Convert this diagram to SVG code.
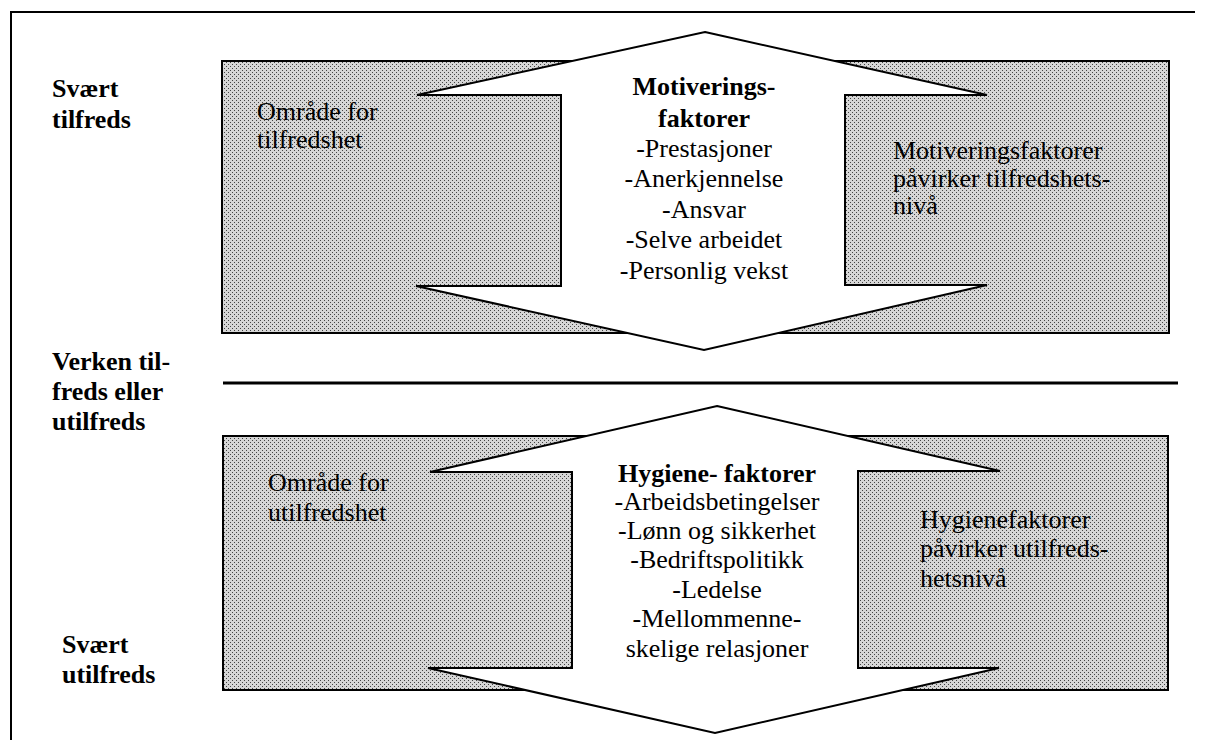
<svg xmlns="http://www.w3.org/2000/svg" width="1207" height="740" viewBox="0 0 1207 740">
<defs>
<pattern id="dots" patternUnits="userSpaceOnUse" width="4" height="4">
<rect width="4" height="4" fill="#d6d6d6"/>
<rect x="0" y="0" width="1" height="1" fill="#444"/>
<rect x="2" y="2" width="1" height="1" fill="#444"/>
</pattern>
</defs>
<style>
.zone{fill:url(#dots);stroke:#000;stroke-width:2}
.arrow{fill:#fff;stroke:#000;stroke-width:2;stroke-linejoin:miter}
.frame{fill:none;stroke:#000;stroke-width:2}
text{font-family:"Liberation Serif","Times New Roman",serif;font-size:26px;fill:#000}
.b{font-weight:bold}
.c{text-anchor:middle}
</style>
<rect width="1207" height="740" fill="#fff"/>
<g id="frame">
<path class="frame" d="M11,740 V12 H1195"/>
</g>
<g id="labels">
<text class="b" x="52" y="97">Svært</text>
<text class="b" x="52" y="128">tilfreds</text>
<text class="b" x="52" y="370">Verken til-</text>
<text class="b" x="52" y="400">freds eller</text>
<text class="b" x="52" y="430">utilfreds</text>
<text class="b" x="62" y="653">Svært</text>
<text class="b" x="62" y="683">utilfreds</text>
</g>
<g id="upper">
<rect class="zone" x="222" y="61" width="947" height="272"/>
<polygon class="arrow" points="705,32 987,95 845,95 845,285 987,285 704,350 416,286 561,286 561,95 417,95"/>
<text x="257" y="120">Område for</text>
<text x="257" y="148">tilfredshet</text>
<text class="b c" x="704" y="95">Motiverings-</text>
<text class="b c" x="704" y="127">faktorer</text>
<text class="c" x="704" y="157">-Prestasjoner</text>
<text class="c" x="704" y="187">-Anerkjennelse</text>
<text class="c" x="704" y="218">-Ansvar</text>
<text class="c" x="704" y="248">-Selve arbeidet</text>
<text class="c" x="704" y="279">-Personlig vekst</text>
<text x="893" y="159">Motiveringsfaktorer</text>
<text x="893" y="187">påvirker tilfredshets-</text>
<text x="893" y="214">nivå</text>
</g>
<g id="connectors">
<line x1="223" y1="383" x2="1178" y2="383" stroke="#000" stroke-width="3"/>
</g>
<g id="lower">
<rect class="zone" x="223" y="436" width="945" height="254"/>
<polygon class="arrow" points="717,406 1000,471 858,471 858,668 999,668 715,733 428,668 572,668 572,472 430,472"/>
<text x="268" y="491">Område for</text>
<text x="268" y="521">utilfredshet</text>
<text class="b c" x="717" y="482">Hygiene- faktorer</text>
<text class="c" x="717" y="510">-Arbeidsbetingelser</text>
<text class="c" x="717" y="539">-Lønn og sikkerhet</text>
<text class="c" x="717" y="568">-Bedriftspolitikk</text>
<text class="c" x="717" y="598">-Ledelse</text>
<text class="c" x="717" y="627">-Mellommenne-</text>
<text class="c" x="717" y="657">skelige relasjoner</text>
<text x="920" y="528">Hygienefaktorer</text>
<text x="920" y="557">påvirker utilfreds-</text>
<text x="920" y="587">hetsnivå</text>
</g>
</svg>
